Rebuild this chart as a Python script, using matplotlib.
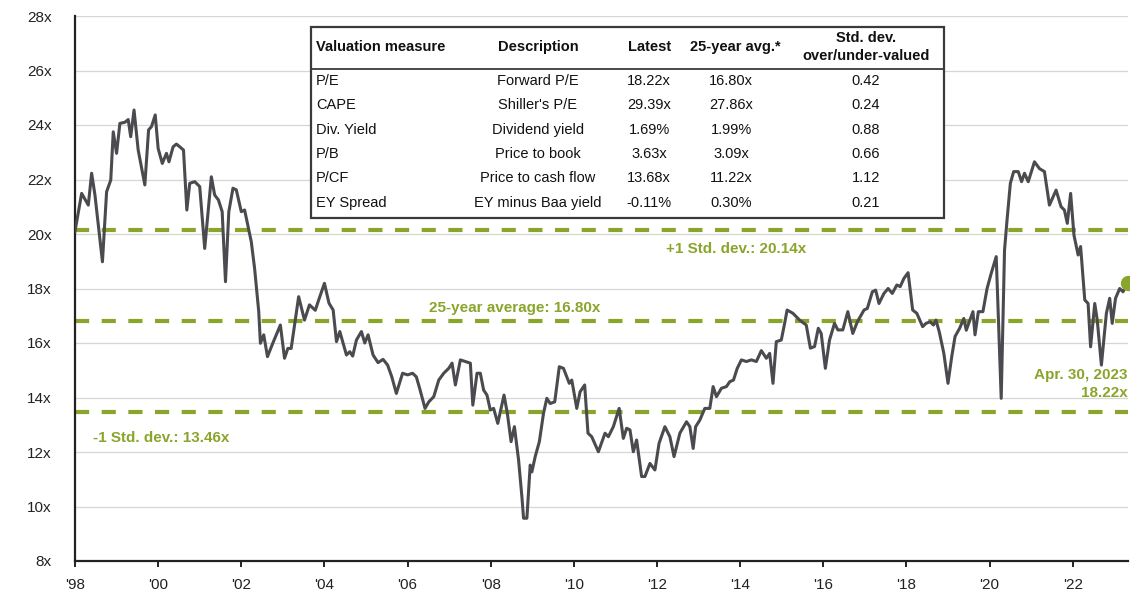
import matplotlib
matplotlib.use("Agg")
import matplotlib.pyplot as plt
from matplotlib.patches import Rectangle
from matplotlib.lines import Line2D

plt.rcParams['font.family'] = ['Liberation Sans', 'DejaVu Sans']

# ---------------- data ----------------
dates = [
    1998.00, 1998.16, 1998.32, 1998.40, 1998.48, 1998.66, 1998.76, 1998.86, 1998.92, 1999.00,
    1999.08, 1999.20, 1999.28, 1999.34, 1999.42, 1999.52, 1999.68, 1999.77, 1999.84, 1999.93,
    2000.00, 2000.10, 2000.20, 2000.26, 2000.36, 2000.44, 2000.52, 2000.61, 2000.69, 2000.76,
    2000.88, 2001.00, 2001.12, 2001.28, 2001.36, 2001.45, 2001.54, 2001.62, 2001.70, 2001.80,
    2001.88, 2002.00, 2002.08, 2002.24, 2002.32, 2002.42, 2002.46, 2002.54, 2002.63, 2002.76,
    2002.94, 2003.04, 2003.12, 2003.20, 2003.38, 2003.52, 2003.64, 2003.78, 2003.86, 2004.00,
    2004.11, 2004.21, 2004.29, 2004.37, 2004.53, 2004.61, 2004.68, 2004.77, 2004.89, 2004.97,
    2005.05, 2005.17, 2005.29, 2005.41, 2005.52, 2005.62, 2005.73, 2005.88, 2006.00, 2006.12,
    2006.21, 2006.29, 2006.42, 2006.51, 2006.63, 2006.75, 2006.87, 2006.99, 2007.07, 2007.15,
    2007.27, 2007.39, 2007.51, 2007.57, 2007.67, 2007.75, 2007.83, 2007.91, 2007.99, 2008.07,
    2008.17, 2008.32, 2008.40, 2008.49, 2008.57, 2008.67, 2008.75, 2008.79, 2008.87, 2008.95,
    2008.99, 2009.07, 2009.17, 2009.27, 2009.35, 2009.43, 2009.54, 2009.65, 2009.75, 2009.89,
    2009.95, 2010.07, 2010.15, 2010.26, 2010.34, 2010.43, 2010.59, 2010.75, 2010.83, 2010.95,
    2011.09, 2011.19, 2011.27, 2011.35, 2011.43, 2011.51, 2011.63, 2011.71, 2011.83, 2011.95,
    2012.05, 2012.19, 2012.31, 2012.41, 2012.55, 2012.71, 2012.79, 2012.87, 2012.93, 2013.03,
    2013.15, 2013.27, 2013.35, 2013.43, 2013.55, 2013.67, 2013.75, 2013.84, 2013.93, 2014.03,
    2014.15, 2014.27, 2014.39, 2014.51, 2014.63, 2014.71, 2014.79, 2014.87, 2014.99, 2015.07,
    2015.13, 2015.27, 2015.43, 2015.59, 2015.69, 2015.79, 2015.88, 2015.95, 2016.05, 2016.15,
    2016.27, 2016.35, 2016.47, 2016.59, 2016.71, 2016.82, 2016.98, 2017.06, 2017.18, 2017.26,
    2017.34, 2017.46, 2017.56, 2017.66, 2017.77, 2017.85, 2017.94, 2018.04, 2018.15, 2018.25,
    2018.39, 2018.47, 2018.57, 2018.65, 2018.71, 2018.79, 2018.90, 2019.00, 2019.09, 2019.17,
    2019.28, 2019.38, 2019.44, 2019.60, 2019.65, 2019.73, 2019.84, 2019.94, 2020.04, 2020.16,
    2020.28, 2020.36, 2020.42, 2020.50, 2020.58, 2020.69, 2020.77, 2020.84, 2020.93, 2021.08,
    2021.20, 2021.32, 2021.44, 2021.60, 2021.72, 2021.80, 2021.87, 2021.95, 2022.03, 2022.13,
    2022.19, 2022.29, 2022.37, 2022.43, 2022.53, 2022.59, 2022.69, 2022.81, 2022.89, 2022.95,
    2023.03, 2023.13, 2023.21, 2023.33,
]
forward_pe = [
    20.10, 21.49, 21.06, 22.23, 21.43, 18.98, 21.55, 21.98, 23.75, 22.96,
    24.06, 24.10, 24.20, 23.57, 24.55, 23.08, 21.80, 23.82, 23.94, 24.37,
    23.14, 22.59, 22.96, 22.65, 23.20, 23.30, 23.20, 23.08, 20.88, 21.86,
    21.92, 21.74, 19.47, 22.10, 21.43, 21.25, 20.82, 18.25, 20.82, 21.68,
    21.62, 20.82, 20.88, 19.72, 18.74, 17.15, 15.99, 16.30, 15.50, 16.00,
    16.66, 15.44, 15.80, 15.80, 17.70, 16.84, 17.40, 17.20, 17.57, 18.19,
    17.46, 17.21, 16.05, 16.42, 15.56, 15.68, 15.52, 16.11, 16.42, 16.00,
    16.30, 15.56, 15.28, 15.40, 15.19, 14.76, 14.15, 14.89, 14.83, 14.89,
    14.76, 14.34, 13.60, 13.84, 14.03, 14.64, 14.89, 15.07, 15.26, 14.46,
    15.38, 15.32, 15.26, 13.72, 14.89, 14.89, 14.27, 14.09, 13.54, 13.60,
    13.05, 14.09, 13.42, 12.38, 12.93, 11.71, 10.36, 9.57, 9.57, 11.52,
    11.27, 11.83, 12.38, 13.42, 13.97, 13.78, 13.84, 15.13, 15.07, 14.52,
    14.64, 13.60, 14.21, 14.46, 12.69, 12.56, 12.01, 12.69, 12.56, 12.93,
    13.60, 12.50, 12.87, 12.81, 12.01, 12.44, 11.10, 11.10, 11.58, 11.34,
    12.32, 12.93, 12.56, 11.83, 12.69, 13.11, 12.93, 12.13, 12.93, 13.17,
    13.60, 13.60, 14.40, 14.03, 14.34, 14.40, 14.58, 14.64, 15.07, 15.38,
    15.32, 15.38, 15.32, 15.72, 15.44, 15.62, 14.52, 16.05, 16.11, 16.72,
    17.21, 17.09, 16.84, 16.66, 15.81, 15.87, 16.54, 16.35, 15.07, 16.11,
    16.72, 16.48, 16.48, 17.15, 16.35, 16.78, 17.21, 17.27, 17.88, 17.94,
    17.45, 17.82, 18.00, 17.82, 18.13, 18.07, 18.37, 18.58, 17.21, 17.09,
    16.60, 16.72, 16.78, 16.66, 16.84, 16.41, 15.62, 14.52, 15.50, 16.24,
    16.54, 16.90, 16.47, 17.15, 16.30, 17.15, 17.15, 18.00, 18.56, 19.17,
    13.97, 19.41, 20.51, 21.86, 22.29, 22.29, 21.92, 22.23, 21.92, 22.65,
    22.40, 22.29, 21.06, 21.61, 21.00, 20.88, 20.39, 21.49, 19.96, 19.23,
    19.54, 17.58, 17.45, 15.86, 17.45, 16.84, 15.19, 17.09, 17.64, 16.72,
    17.64, 18.00, 17.88, 18.22,
]

avg_25y = 16.80
plus_1sd = 20.14
minus_1sd = 13.46

year_ticks = [1998, 2000, 2002, 2004, 2006, 2008, 2010, 2012, 2014, 2016, 2018, 2020, 2022]
year_labels = ["'98", "'00", "'02", "'04", "'06", "'08", "'10", "'12", "'14", "'16", "'18", "'20", "'22"]
pe_ticks = [8, 10, 12, 14, 16, 18, 20, 22, 24, 26, 28]
pe_labels = ["8x", "10x", "12x", "14x", "16x", "18x", "20x", "22x", "24x", "26x", "28x"]

tbl_header = ["Valuation measure", "Description", "Latest", "25-year avg.*", "Std. dev.\nover/under-valued"]
tbl_measure = ["P/E", "CAPE", "Div. Yield", "P/B", "P/CF", "EY Spread"]
tbl_desc = ["Forward P/E", "Shiller's P/E", "Dividend yield", "Price to book", "Price to cash flow", "EY minus Baa yield"]
tbl_latest = ["18.22x", "29.39x", "1.69%", "3.63x", "13.68x", "-0.11%"]
tbl_avg = ["16.80x", "27.86x", "1.99%", "3.09x", "11.22x", "0.30%"]
tbl_sd = ["0.42", "0.24", "0.88", "0.66", "1.12", "0.21"]

# ---------------- figure ----------------
W, H = 1130, 590
fig = plt.figure(figsize=(W / 100, H / 100), dpi=100)
fig.patch.set_facecolor('white')
ax = fig.add_axes([75 / W, 1 - 561 / H, (1128 - 75) / W, (561 - 16) / H])

GREEN = '#8aa52c'
LINE = '#4a4a4f'

ax.set_xlim(1998, dates[-1])
ax.set_ylim(8, 28)

for t in pe_ticks:
    ax.axhline(t, color='#d6d6d6', lw=0.9, zorder=1)

for lvl in (plus_1sd, avg_25y, minus_1sd):
    ax.axhline(lvl, color=GREEN, lw=3.0, dashes=(3.4, 3.0), zorder=2)

ax.plot(dates, forward_pe, color=LINE, lw=2.2, zorder=3)
ax.plot([dates[-1]], [forward_pe[-1]], 'o', color=GREEN, ms=10, zorder=4, clip_on=False)

for s in ('top', 'right'):
    ax.spines[s].set_visible(False)
for s in ('left', 'bottom'):
    ax.spines[s].set_color('#222222')
    ax.spines[s].set_linewidth(1.6)

ax.set_xticks(year_ticks)
ax.set_xticklabels(year_labels, fontsize=11, color='#222222')
ax.set_yticks(pe_ticks)
ax.set_yticklabels(pe_labels, fontsize=11, color='#222222')
ax.tick_params(axis='x', direction='out', length=4, width=1.4, pad=8, color='#222222')
ax.tick_params(axis='y', length=0, pad=17)

# annotations
ann = dict(color=GREEN, fontsize=11, fontweight='bold')
ax.text(2012.22, plus_1sd - 0.69, '+1 Std. dev.: %.2fx' % plus_1sd, ha='left', va='center', **ann)
ax.text(2006.51, avg_25y + 0.48, '25-year average: %.2fx' % avg_25y, ha='left', va='center', **ann)
ax.text(1998.43, minus_1sd - 0.95, '-1 Std. dev.: %.2fx' % minus_1sd, ha='left', va='center', **ann)
fig.text(1128 / W, 1 - 375 / H, 'Apr. 30, 2023', ha='right', va='center', **ann)
fig.text(1128 / W, 1 - 393 / H, '%.2fx' % forward_pe[-1], ha='right', va='center', **ann)

# ---------------- table ----------------
def fx(px):
    return px / W

def fy(py):
    return 1 - py / H

x0, x1, y0, y1 = 311, 944, 27, 218
fig.patches.append(Rectangle((fx(x0), fy(y1)), fx(x1) - fx(x0), fy(y0) - fy(y1),
                             transform=fig.transFigure, facecolor='white',
                             edgecolor='#3a3a3a', lw=1.6, zorder=10))
fig.lines.append(Line2D([fx(x0), fx(x1)], [fy(69), fy(69)], transform=fig.transFigure,
                        color='#3a3a3a', lw=1.3, zorder=11))

hdr = dict(fontsize=10.5, fontweight='bold', color='#111111', va='center', zorder=12)
fig.text(fx(316), fy(47), tbl_header[0], ha='left', **hdr)
fig.text(fx(538), fy(47), tbl_header[1], ha='center', **hdr)
fig.text(fx(650), fy(47), tbl_header[2], ha='center', **hdr)
fig.text(fx(735), fy(47), tbl_header[3], ha='center', **hdr)
fig.text(fx(866), fy(47), tbl_header[4], ha='center', linespacing=1.35, **hdr)

body = dict(fontsize=10.5, color='#111111', va='center', zorder=12)
row_y = [81, 105, 130, 154, 178, 203]
for i, ry in enumerate(row_y):
    fig.text(fx(316), fy(ry), tbl_measure[i], ha='left', **body)
    fig.text(fx(538), fy(ry), tbl_desc[i], ha='center', **body)
    fig.text(fx(649), fy(ry), tbl_latest[i], ha='center', **body)
    fig.text(fx(731), fy(ry), tbl_avg[i], ha='center', **body)
    fig.text(fx(866), fy(ry), tbl_sd[i], ha='center', **body)

fig.savefig('out.png', dpi=100, facecolor='white')
